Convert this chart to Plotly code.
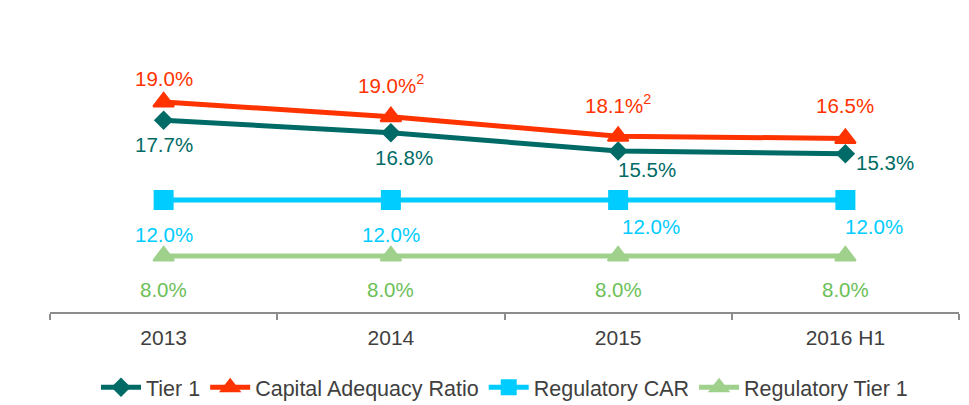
import plotly.graph_objects as go

categories = ["2013", "2014", "2015", "2016 H1"]
tier1 = [17.7, 16.8, 15.5, 15.3]
tier1_labels = ["17.7%", "16.8%", "15.5%", "15.3%"]
car = [19.0, 17.95, 16.55, 16.4]
car_labels = ["19.0%", "19.0%<sup>2</sup>", "18.1%<sup>2</sup>", "16.5%"]
reg_car = [12.0, 12.0, 12.0, 12.0]
reg_car_labels = ["12.0%", "12.0%", "12.0%", "12.0%"]
reg_tier1 = [8.0, 8.0, 8.0, 8.0]
reg_tier1_labels = ["8.0%", "8.0%", "8.0%", "8.0%"]

FONT = "Liberation Sans, Arial, sans-serif"
C_T1 = "#006B66"
C_CAR = "#FF3300"
C_REG = "#00CCFF"
C_RT1 = "#9FD18C"
C_RT1_TXT = "#6CBF58"

fig = go.Figure()
fig.add_trace(go.Scatter(x=categories, y=tier1, name="Tier 1", mode="lines+markers",
                         line=dict(color=C_T1, width=5),
                         marker=dict(symbol="diamond", size=15, color=C_T1)))
fig.add_trace(go.Scatter(x=categories, y=car, name="Capital Adequacy Ratio", mode="lines+markers",
                         line=dict(color=C_CAR, width=5),
                         marker=dict(symbol="triangle-up", size=18, color=C_CAR,
                                     line=dict(color=C_CAR, width=2))))
fig.add_trace(go.Scatter(x=categories, y=reg_car, name="Regulatory CAR", mode="lines+markers",
                         line=dict(color=C_REG, width=5),
                         marker=dict(symbol="square", size=20, color=C_REG)))
fig.add_trace(go.Scatter(x=categories, y=reg_tier1, name="Regulatory Tier 1", mode="lines+markers",
                         line=dict(color=C_RT1, width=5),
                         marker=dict(symbol="triangle-up", size=18, color=C_RT1,
                                     line=dict(color=C_RT1, width=2))))

annotations = []
car_shift = [(0, 23), (0, 33), (0, 32), (0, 33)]
t1_shift = [(0, -24), (13, -25), (29, -19), (40, -9)]
rc_shift = [(0, -35), (0, -35), (33, -27), (29, -27)]
rt_shift = [(0, -34), (0, -34), (0, -34), (0, -34)]
for vals, labels, shifts, col in [
    (car, car_labels, car_shift, C_CAR),
    (tier1, tier1_labels, t1_shift, C_T1),
    (reg_car, reg_car_labels, rc_shift, C_REG),
    (reg_tier1, reg_tier1_labels, rt_shift, C_RT1_TXT),
]:
    for i, (v, t, (dx, dy)) in enumerate(zip(vals, labels, shifts)):
        annotations.append(dict(x=i, y=v, xref="x", yref="y", text=t, showarrow=False,
                                xanchor="center", yanchor="middle",
                                xshift=dx, yshift=dy,
                                font=dict(family=FONT, size=20.5, color=col)))

# page body has an 8px default margin; figure is sized so plot lands at x 50-959, y 30-312
fig.update_layout(
    width=961, height=397,
    margin=dict(l=42, r=10, t=22, b=93, autoexpand=False),
    plot_bgcolor="white", paper_bgcolor="white",
    font=dict(family=FONT, size=20, color="#404040"),
    showlegend=True,
    legend=dict(orientation="h", x=0.5, xanchor="center", y=-0.267, yanchor="middle",
                font=dict(family=FONT, size=21.5, color="#404040"),
                itemwidth=40, tracegroupgap=0),
    annotations=annotations,
    xaxis=dict(type="category", range=[-0.5, 3.5], showgrid=False, zeroline=False,
               showline=True, linecolor="#8C8C8C", linewidth=1.5, automargin=False,
               ticks="outside", tickson="boundaries", ticklen=6, tickcolor="#8C8C8C",
               tickwidth=1.5, ticklabelstandoff=6,
               tickfont=dict(family=FONT, size=21, color="#404040")),
    yaxis=dict(range=[4, 24.14], visible=False, showgrid=False, zeroline=False,
               automargin=False),
)

fig.write_html("out.html")
